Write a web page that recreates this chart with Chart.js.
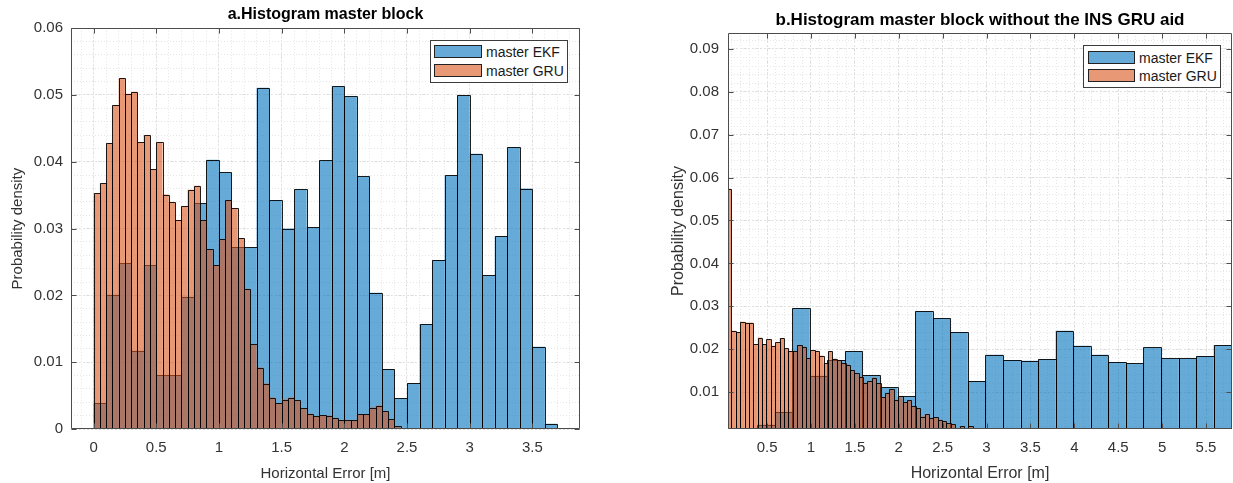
<!DOCTYPE html>
<html>
<head>
<meta charset="utf-8">
<script src="https://cdn.jsdelivr.net/npm/chart.js@4.4.1/dist/chart.umd.min.js"></script>
<style>
  html, body { margin: 0; padding: 0; background: #fff; }
  body { width: 1233px; height: 483px; position: relative; overflow: hidden; font-family: "Liberation Sans", Arial, sans-serif; }
  canvas { position: absolute; top: 0; }
  #cA { left: 0; }
  #cB { left: 620px; }
  .legend { position: absolute; background: #fff; border: 1px solid #3c3c3c; box-sizing: border-box; }
  .legend .row { position: absolute; left: 0; height: 13px; display: flex; align-items: center; }
  .legend .sw { display: inline-block; height: 13px; box-sizing: border-box; border: 1px solid #222; }
  .legend .lt { font-size: 14px; color: #1a1a1a; margin-left: 4px; white-space: nowrap; }
</style>
</head>
<body>
<canvas id="cA" width="620" height="483"></canvas>
<canvas id="cB" width="613" height="483"></canvas>
<script>
// ---------- data ----------
const ekfLabel = 'master EKF';
const gruLabel = 'master GRU';

// a. Histogram master block
const aEkfStart = 0, aEkfWidth = 0.1;
const aEkf = [0.0039, 0.0201, 0.0248, 0.0117, 0.0245, 0.0081, 0.0081, 0.0198, 0.0338, 0.0403,
              0.0384, 0.0272, 0.0272, 0.0511, 0.0343, 0.0300, 0.0359, 0.0302, 0.0402, 0.0513,
              0.0498, 0.0378, 0.0204, 0.0090, 0.0046, 0.0069, 0.0157, 0.0253, 0.0380, 0.0500,
              0.0412, 0.0230, 0.0289, 0.0422, 0.0360, 0.0123, 0.0008];
const aGruStart = 0, aGruWidth = 0.05;
const aGru = [0.0353, 0.0368, 0.0428, 0.0485, 0.0525, 0.0502, 0.0505, 0.0429, 0.0440, 0.0389,
              0.0429, 0.0351, 0.0340, 0.0313, 0.0334, 0.0358, 0.0364, 0.0313, 0.0269, 0.0245,
              0.0284, 0.0343, 0.0331, 0.0286, 0.0210, 0.0127, 0.0092, 0.0068, 0.0047, 0.0039,
              0.0044, 0.0047, 0.0043, 0.0031, 0.0023, 0.0019, 0.0021, 0.0020, 0.0017, 0.0013,
              0.0013, 0.0013, 0.0022, 0.0022, 0.0032, 0.0035, 0.0027, 0.0015, 0.0004];
const aXTicks = [0, 0.5, 1, 1.5, 2, 2.5, 3, 3.5];
const aXLabels = ['0', '0.5', '1', '1.5', '2', '2.5', '3', '3.5'];
const aYTicks = [0, 0.01, 0.02, 0.03, 0.04, 0.05, 0.06];
const aYLabels = ['0', '0.01', '0.02', '0.03', '0.04', '0.05', '0.06'];

// b. Histogram master block without the INS GRU aid
const bEkfStart = 0.387, bEkfWidth = 0.2;
const bEkf = [0.0024, 0.0054, 0.0296, 0.0138, 0.0175, 0.0196, 0.0140, 0.0111, 0.0090, 0.0289,
              0.0272, 0.0240, 0.0126, 0.0187, 0.0175, 0.0173, 0.0177, 0.0243, 0.0208, 0.0187,
              0.0170, 0.0167, 0.0204, 0.0179, 0.0179, 0.0184, 0.0210, 0.0240];
const bGruStart = 0.0435, bGruWidth = 0.05;
const bGru = [0.0574, 0.0243, 0.0240, 0.0264, 0.0262, 0.0262, 0.0212, 0.0227, 0.0212, 0.0223,
              0.0208, 0.0216, 0.0226, 0.0202, 0.0196, 0.0195, 0.0210, 0.0206, 0.0179, 0.0197,
              0.0196, 0.0185, 0.0167, 0.0195, 0.0178, 0.0175, 0.0167, 0.0164, 0.0152, 0.0144,
              0.0136, 0.0122, 0.0126, 0.0134, 0.0121, 0.0088, 0.0098, 0.0107, 0.0082, 0.0091,
              0.0076, 0.0081, 0.0067, 0.0063, 0.0043, 0.0049, 0.0040, 0.0041, 0.0036, 0.0033,
              0.0027, 0.0025, 0.0016, 0.0021, 0.0015, 0.0021];
const bXTicks = [0.5, 1, 1.5, 2, 2.5, 3, 3.5, 4, 4.5, 5, 5.5];
const bXLabels = ['0.5', '1', '1.5', '2', '2.5', '3', '3.5', '4', '4.5', '5', '5.5'];
const bYTicks = [0.01, 0.02, 0.03, 0.04, 0.05, 0.06, 0.07, 0.08, 0.09];
const bYLabels = ['0.01', '0.02', '0.03', '0.04', '0.05', '0.06', '0.07', '0.08', '0.09'];

// ---------- style ----------
const FONT = '"Liberation Sans", Arial, Helvetica, sans-serif';
const EKF_FILL = 'rgba(0,114,189,0.6)';
const GRU_FILL = 'rgba(217,83,25,0.6)';
const EDGE = 'rgba(0,0,0,0.88)';
const AXIS = '#4d4d4d';
const TEXT = '#333333';
const MAJOR_GRID = '#dcdcdc';
const MINOR_GRID = '#e6e6e6';

function binPoints(start, width, vals) {
  return vals.map((v, i) => ({ x: start + (i + 0.5) * width, y: v }));
}

// grid positions between min and max
function steps(from, to, step) {
  const out = [];
  const n = Math.round((to - from) / step);
  for (let i = 0; i <= n; i++) out.push(+(from + i * step).toFixed(6));
  return out;
}

// 1px bar edges on whole pixels, so neighbouring bars share one line
const outlinePlugin = {
  id: 'outline',
  afterDatasetDraw(chart, args) {
    const { ctx, chartArea: a } = chart;
    ctx.save();
    ctx.beginPath();
    ctx.rect(a.left, a.top, a.width, a.height);
    ctx.clip();
    ctx.strokeStyle = EDGE;
    ctx.lineWidth = 1;
    ctx.beginPath();
    args.meta.data.forEach(el => {
      const l = Math.round(el.x - el.width / 2), r = Math.round(el.x + el.width / 2);
      const t = Math.round(el.y), b = Math.round(el.base);
      ctx.rect(l + 0.5, t + 0.5, r - l, b - t);
    });
    ctx.stroke();
    ctx.restore();
  }
};

// MATLAB-like box with inward ticks, drawn over the bars
const framePlugin = {
  id: 'frame',
  afterDatasetsDraw(chart) {
    const { ctx, chartArea: a, scales } = chart;
    const len = 5;
    const L = Math.round(a.left) + 0.5, R = Math.round(a.right) - 0.5;
    const T = Math.round(a.top) + 0.5, B = Math.round(a.bottom) - 0.5;
    ctx.save();
    ctx.strokeStyle = AXIS;
    ctx.lineWidth = 1;
    ctx.beginPath();
    scales.x.ticks.forEach(t => {
      const px = Math.round(scales.x.getPixelForValue(t.value)) + 0.5;
      ctx.moveTo(px, B); ctx.lineTo(px, B - len);
      ctx.moveTo(px, T); ctx.lineTo(px, T + len);
    });
    scales.y.ticks.forEach(t => {
      const py = Math.round(scales.y.getPixelForValue(t.value)) + 0.5;
      ctx.moveTo(L, py); ctx.lineTo(L + len, py);
      ctx.moveTo(R, py); ctx.lineTo(R - len, py);
    });
    ctx.rect(L, T, R - L, B - T);
    ctx.stroke();
    ctx.restore();
  }
};

function makeHist(id, p) {
  const tickFont = { family: FONT, size: p.tickSize };
  const titleFont = { family: FONT, size: p.labelSize };
  const minorX = steps(p.minorX[0], p.minorX[1], p.minorX[2]);
  const minorY = steps(p.minorY[0], p.minorY[1], p.minorY[2]);

  const barOpts = {
    borderWidth: 0,
    inflateAmount: 0,
    barPercentage: 1,
    categoryPercentage: 1,
    grouped: false
  };

  return new Chart(document.getElementById(id), {
    type: 'bar',
    data: {
      datasets: [
        Object.assign({ label: ekfLabel, data: binPoints(p.ekfStart, p.ekfWidth, p.ekf),
          backgroundColor: EKF_FILL, xAxisID: 'x', yAxisID: 'y', order: 2 }, barOpts),
        Object.assign({ label: gruLabel, data: binPoints(p.gruStart, p.gruWidth, p.gru),
          backgroundColor: GRU_FILL, xAxisID: 'x2', yAxisID: 'y', order: 1 }, barOpts)
      ]
    },
    plugins: [outlinePlugin, framePlugin],
    options: {
      responsive: false,
      animation: false,
      events: [],
      layout: { padding: { left: 0, right: p.padRight, top: 0, bottom: 0 } },
      plugins: {
        legend: { display: false },
        tooltip: { enabled: false },
        title: {
          display: true,
          text: p.title,
          fullSize: false,
          color: '#000',
          font: { family: FONT, size: p.titleSize, weight: 'bold' },
          padding: { top: p.titlePad[0], bottom: p.titlePad[1] }
        }
      },
      scales: {
        x: {
          type: 'linear', position: 'bottom', min: p.xMin, max: p.xMax, offset: false,
          afterBuildTicks: s => { s.ticks = p.xTicks.map(v => ({ value: v })); },
          afterFit: s => { s.height = p.xAxisHeight; },
          ticks: { autoSkip: false, maxRotation: 0, padding: p.xTickPad, color: TEXT, font: tickFont,
                   callback: (v, i) => p.xLabels[i] },
          grid: { offset: false, drawTicks: false, color: MAJOR_GRID },
          border: { display: false, dash: [2, 2] },
          title: { display: true, text: 'Horizontal Error [m]', color: TEXT, font: titleFont,
                   padding: { top: p.xTitlePad, bottom: 0 } }
        },
        x2: {
          type: 'linear', position: 'bottom', min: p.xMin, max: p.xMax, offset: false, display: false,
          afterBuildTicks: s => { s.ticks = p.xTicks.map(v => ({ value: v })); },
          grid: { offset: false }
        },
        xm: {
          type: 'linear', axis: 'x', position: 'bottom', min: p.xMin, max: p.xMax, offset: false,
          afterBuildTicks: s => { s.ticks = minorX.map(v => ({ value: v })); },
          afterFit: s => { s.height = 0; },
          ticks: { display: false },
          grid: { offset: false, drawTicks: false, color: MINOR_GRID },
          border: { display: false, dash: [1, 2] }
        },
        y: {
          type: 'linear', position: 'left', min: p.yMin, max: p.yMax,
          afterBuildTicks: s => { s.ticks = p.yTicks.map(v => ({ value: v })); },
          afterFit: s => { s.width = p.yAxisWidth; },
          ticks: { autoSkip: false, padding: p.yTickPad, color: TEXT, font: tickFont,
                   callback: (v, i) => p.yLabels[i] },
          grid: { drawTicks: false, color: MAJOR_GRID },
          border: { display: false, dash: [2, 2] },
          title: { display: true, text: 'Probability density', color: TEXT, font: titleFont,
                   padding: { top: p.yTitlePad, bottom: 0 } }
        },
        ym: {
          type: 'linear', axis: 'y', position: 'left', min: p.yMin, max: p.yMax,
          afterBuildTicks: s => { s.ticks = minorY.map(v => ({ value: v })); },
          afterFit: s => { s.width = 0; },
          ticks: { display: false },
          grid: { drawTicks: false, color: MINOR_GRID },
          border: { display: false, dash: [1, 2] }
        }
      }
    }
  });
}

makeHist('cA', {
  title: 'a.Histogram master block', titleSize: 16, titlePad: [5, 4],
  ekfStart: aEkfStart, ekfWidth: aEkfWidth, ekf: aEkf,
  gruStart: aGruStart, gruWidth: aGruWidth, gru: aGru,
  xMin: -0.18, xMax: 3.88, yMin: 0, yMax: 0.06,
  xTicks: aXTicks, xLabels: aXLabels, yTicks: aYTicks, yLabels: aYLabels,
  minorX: [-0.1, 3.8, 0.1], minorY: [0.002, 0.058, 0.002],
  tickSize: 15, labelSize: 15,
  padRight: 40, xAxisHeight: 54, yAxisWidth: 71,
  xTickPad: 10, yTickPad: 8, xTitlePad: 8, yTitlePad: 9
});

makeHist('cB', {
  title: 'b.Histogram master block without the INS GRU aid', titleSize: 17, titlePad: [10, 2.6],
  ekfStart: bEkfStart, ekfWidth: bEkfWidth, ekf: bEkf,
  gruStart: bGruStart, gruWidth: bGruWidth, gru: bGru,
  xMin: 0.055, xMax: 5.796, yMin: 0.0014, yMax: 0.0937,
  xTicks: bXTicks, xLabels: bXLabels, yTicks: bYTicks, yLabels: bYLabels,
  minorX: [0.1, 5.7, 0.1], minorY: [0.002, 0.092, 0.002],
  tickSize: 15, labelSize: 16,
  padRight: 1, xAxisHeight: 54, yAxisWidth: 108,
  xTickPad: 10, yTickPad: 9, xTitlePad: 8, yTitlePad: 49
});

// legends (HTML, placed over the plot corners)
function addLegend(box) {
  const lg = document.createElement('div');
  lg.className = 'legend';
  Object.assign(lg.style, { left: box.left + 'px', top: box.top + 'px', width: box.w + 'px', height: box.h + 'px' });
  [[ekfLabel, EKF_FILL], [gruLabel, GRU_FILL]].forEach(([txt, col], i) => {
    const row = document.createElement('div');
    row.className = 'row';
    row.style.top = box.rows[i] + 'px';
    row.style.left = box.swLeft + 'px';
    const sw = document.createElement('span');
    sw.className = 'sw';
    sw.style.width = box.swW + 'px';
    sw.style.background = col;
    const lt = document.createElement('span');
    lt.className = 'lt';
    lt.textContent = txt;
    row.appendChild(sw);
    row.appendChild(lt);
    lg.appendChild(row);
  });
  document.body.appendChild(lg);
}
addLegend({ left: 430, top: 40, w: 138, h: 43, rows: [4, 23], swLeft: 3, swW: 48 });
addLegend({ left: 1083, top: 45, w: 138, h: 43, rows: [5, 23], swLeft: 4, swW: 47 });
</script>
</body>
</html>
